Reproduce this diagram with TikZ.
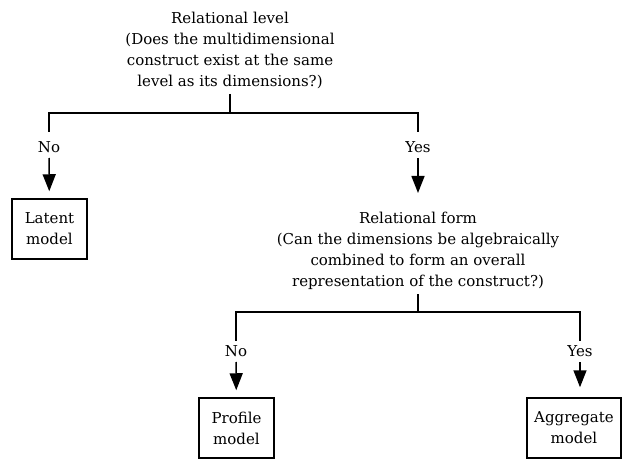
\documentclass[tikz,border=0pt]{standalone}
\usepackage{fontspec}
\setmainfont{DejaVu Serif}
\usetikzlibrary{arrows.meta}

\newcommand{\diagfont}{\fontsize{15}{21}\selectfont}

\begin{document}
\begin{tikzpicture}[
        x=1pt, y=-1pt,
        line width=1.5pt,
        question/.style={
            align=center,
            inner sep=4pt,
            anchor=south,
            font=\diagfont
        },
        model/.style={
            rectangle,
            draw=black,
            minimum width=75pt,
            minimum height=60pt,
            align=center,
            font=\diagfont
        },
        answer/.style={
            inner sep=0pt,
            text height=10.5pt,
            text depth=0pt,
            font=\diagfont
        },
        branch/.style={shorten >=9pt},
        flow/.style={
            -{Triangle[length=17pt,width=13pt]},
            shorten <=5pt,
            shorten >=7pt
        }
    ]

    \useasboundingbox (0,0) rectangle (622,460);

    % First question
    \node[question] (level) at (230,94)
        {Relational level\\(Does the multidimensional\\construct exist at the same\\level as its dimensions?)};

    \coordinate (levelsplit) at (230,113);
    \node[answer] (levelno) at (49,147) {No};
    \node[answer] (levelyes) at (418,147) {Yes};

    \node[model] (latent) at (49.5,229) {Latent\\model};

    % Second question
    \node[question] (form) at (418,294)
        {Relational form\\(Can the dimensions be algebraically\\combined to form an overall\\representation of the construct?)};

    \coordinate (formsplit) at (418,312);
    \node[answer] (formno) at (236,351) {No};
    \node[answer] (formyes) at (580,351) {Yes};

    \node[model] (profile) at (236.5,428) {Profile\\model};
    \node[model, minimum width=94pt] (aggregate) at (574,428) {Aggregate\\model};

    % Connectors
    \draw (level.south) -- (levelsplit);
    \draw[branch] (levelsplit) -| (levelno.north);
    \draw[branch] (levelsplit) -| (levelyes.north);
    \draw[flow] (levelno) -- (latent);
    \draw[flow, shorten >=14pt] (levelyes) -- (form);

    \draw (form.south) -- (formsplit);
    \draw[branch, shorten >=4pt] (formsplit) -| (formno.north);
    \draw[branch, shorten >=4pt] (formsplit) -| (formyes.north);
    \draw[flow] (formno) -- (profile);
    \draw[flow, shorten >=10pt] (formyes) -- (aggregate.north -| formyes);

\end{tikzpicture}
\end{document}
